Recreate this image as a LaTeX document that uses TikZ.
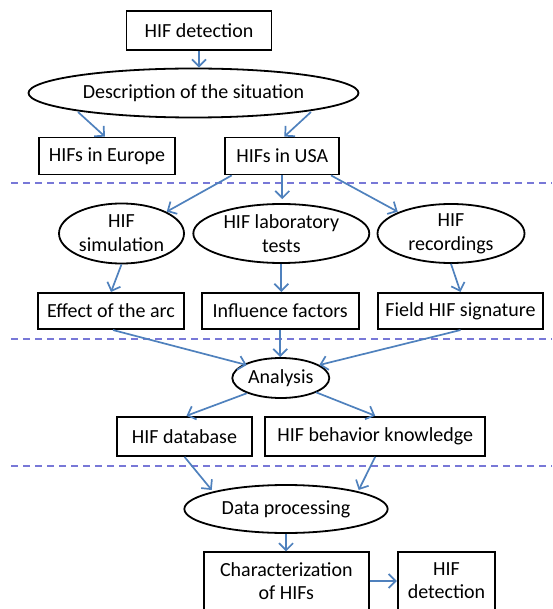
\documentclass[tikz,border=0pt]{standalone}
\usepackage{fontspec}
\setmainfont{Carlito}
\usetikzlibrary{shapes.geometric,arrows.meta,calc}
\definecolor{arrblue}{RGB}{79,129,189}
\definecolor{dashblue}{RGB}{120,120,215}
\tikzset{
  every node/.style={font=\fontsize{20}{24}\selectfont},
  bx/.style={draw=black, line width=1.8pt, rectangle, inner sep=0pt, align=center},
  el/.style={draw=black, line width=1.8pt, ellipse, inner sep=0pt},
  ellabel/.style={label={[align=center,font=\fontsize{20}{24}\selectfont]center:#1}},
  arr/.style={draw=arrblue, line width=1.7pt, -{Straight Barb[length=7pt,width=14pt]}},
  sep/.style={draw=dashblue, line width=1.8pt, dash pattern=on 7pt off 5pt}
}
\begin{document}
\begin{tikzpicture}[x=1pt,y=-1pt]
\useasboundingbox (0,0) rectangle (552,609);
\clip (0,0) rectangle (552,609);
% separators
\draw[sep] (11,183.3) -- (552,183.3);
\draw[sep] (11,339.3) -- (552,339.3);
\draw[sep] (11,465.7) -- (552,465.7);
% nodes
\node[bx, minimum width=145pt, minimum height=39.3pt] (d1) at (199,30.3) {HIF detection};
\node[el, minimum width=330pt, minimum height=49pt, ellabel={Description of the situation}] (desc) at (193.5,93) {};
\node[bx, minimum width=136pt, minimum height=37pt] (eu) at (107,156) {HIFs in Europe};
\node[bx, minimum width=114pt, minimum height=37pt] (usa) at (282.3,156) {HIFs in USA};
\node[el, minimum width=125pt, minimum height=60pt, ellabel={HIF\\simulation}] (sim) at (121.5,233.5) {};
\node[el, minimum width=176pt, minimum height=59pt, ellabel={HIF laboratory\\tests}] (lab) at (281.3,233.5) {};
\node[el, minimum width=147pt, minimum height=59pt, ellabel={HIF\\recordings}] (rec) at (451,233.5) {};
\node[bx, minimum width=146.7pt, minimum height=36.3pt] (arc) at (111,311) {Effect of the arc};
\node[bx, minimum width=157pt, minimum height=36.3pt] (inf) at (280.2,311) {Influence factors};
\node[bx, minimum width=165.7pt, minimum height=36.3pt] (sig) at (460.5,311) {Field HIF signature};
\node[el, minimum width=97pt, minimum height=40pt, ellabel={Analysis}] (ana) at (280.8,378) {};
\node[bx, minimum width=135.7pt, minimum height=39.3pt] (db) at (184.5,436.3) {HIF database};
\node[bx, minimum width=220.3pt, minimum height=39.3pt] (beh) at (375.2,436.3) {HIF behavior knowledge};
\node[el, minimum width=203.3pt, minimum height=48pt, ellabel={Data processing}] (dp) at (286,509) {};
\node[bx, minimum width=164.7pt, minimum height=57.4pt, font=\fontsize{20}{22.5}\selectfont] (ch) at (286.3,581) {Characterization\\of HIFs};
\node[bx, minimum width=97.7pt, minimum height=57.4pt, font=\fontsize{20}{23}\selectfont] (hd) at (446.5,581) {HIF\\detection};
% connectors
\draw[arr] (d1.south) -- (d1.south |- desc.north);
\draw[arr] ([shift={(-115.5,19)}]desc.center) -- ([xshift=-2pt]eu.north);
\draw[arr] ([shift={(117.5,19)}]desc.center) -- ([xshift=2pt]usa.north);
\draw[arr] ([xshift=-50.6pt]usa.south) -- ([shift={(45.2,-21.8)}]sim.center);
\draw[arr] (usa.south) -- ($(usa.south |- lab.north)+(0,-4)$);
\draw[arr] ([xshift=48.7pt]usa.south) -- ([shift={(-53.3,-21.8)}]rec.center);
\draw[arr] (sim.south) -- (arc.north);
\draw[arr] (lab.south) -- (lab.south |- inf.north);
\draw[arr] (rec.south) -- (sig.north);
\draw[arr] ([xshift=2pt]arc.south) -- ([shift={(-34.1,-13)}]ana.center);
\draw[arr] (inf.south) -- (inf.south |- ana.north);
\draw[arr] (sig.south) -- ([shift={(38.5,-13)}]ana.center);
\draw[arr] ([shift={(-34.1,15.3)}]ana.center) -- ([xshift=2pt]db.north);
\draw[arr] ([shift={(35.2,14.3)}]ana.center) -- (beh.north);
\draw[arr] (db.south) -- ([shift={(-74.3,-19)}]dp.center);
\draw[arr] (beh.south) -- ([shift={(72.7,-19)}]dp.center);
\draw[arr] (dp.south) -- (dp.south |- ch.north);
\draw[arr] (ch.east) -- (hd.west);
\end{tikzpicture}
\end{document}
